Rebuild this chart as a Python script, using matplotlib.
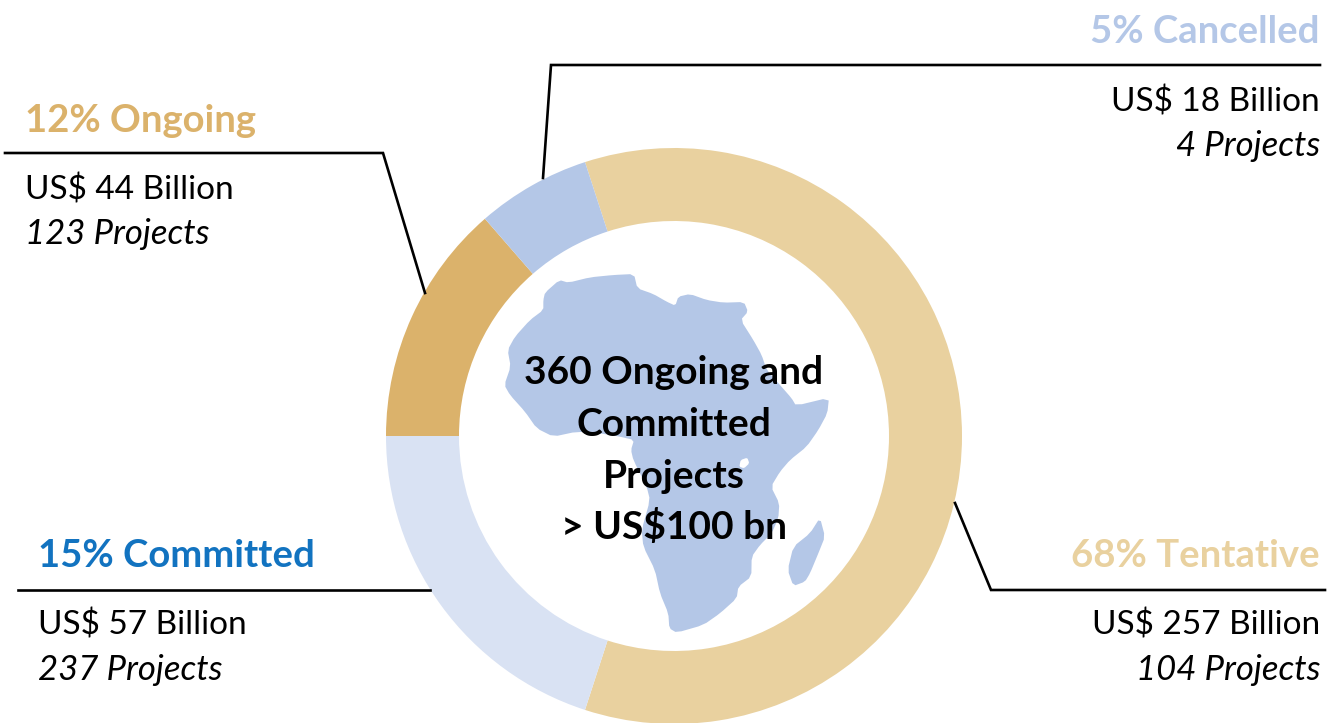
import matplotlib
matplotlib.use("Agg")
import matplotlib.pyplot as plt
from matplotlib.patches import Polygon

plt.rcParams['font.family'] = ['Lato', 'DejaVu Sans']

W, H = 1338, 723
DPI = 100

# Data
categories = ["Tentative", "Committed", "Ongoing", "Cancelled"]
percent_labels = ["68%", "15%", "12%", "5%"]
billions = [257, 57, 44, 18]
projects = [104, 237, 123, 4]
# slice shares as drawn in the picture (the printed percentages differ)
drawn_shares = [60.0, 20.0, 13.6, 6.4]
colors = ["#E9D19F", "#D9E2F3", "#DBB26B", "#B4C7E7"]
title_colors = ["#E9D19F", "#1273C0", "#DBB26B", "#B4C7E7"]
center_lines = ["360 Ongoing and", "Committed", "Projects", "> US$100 bn"]

africa_zoom = [(160,90),(165,68),(208,30),(235,38),(300,22),(370,15),(432,12),(442,55),(490,72),(530,95),
    (556,107),(565,80),(600,72),(650,90),(700,98),(762,96),(774,125),(752,150),(790,210),(815,255),(830,300),
    (870,345),(905,385),(918,407),(1017,383),(1012,430),(985,480),(950,530),(900,570),(870,605),(843,650),
    (868,700),(865,745),(845,790),(810,825),(785,860),(784,920),(745,950),(740,985),(690,1030),(640,1065),
    (560,1088),(538,1075),(535,1030),(510,970),(495,900),(460,830),(455,780),(480,690),(470,650),(430,570),
    (423,540),(432,510),(390,500),(330,490),(260,485),(190,500),(140,475),(105,425),(60,375),(43,345),
    (62,290),(53,240),(75,200),(120,150),(160,120)]
madagascar_zoom = [(990,743),(1005,800),(985,850),(960,910),(945,935),(910,948),(893,900),(910,830),(960,790)]
lake_zoom = [(752,570),(772,563),(778,580),(762,595),(748,590)]

def smooth(points, t=0.18):
    out = []
    n = len(points)
    for i in range(n):
        (x0, y0), (x1, y1) = points[i], points[(i + 1) % n]
        out.append((x0 + t * (x1 - x0), y0 + t * (y1 - y0)))
        out.append((x1 - t * (x1 - x0), y1 - t * (y1 - y0)))
    return out

def Y(y):
    return H - y

def from_zoom(points):
    return [(490 + x / 3, Y(270 + y / 3)) for x, y in smooth(points)]

fig = plt.figure(figsize=(W / DPI, H / DPI), dpi=DPI)
ax = fig.add_axes([0, 0, 1, 1])

ax.pie(drawn_shares, colors=colors, center=(674, Y(436)), radius=288, startangle=108,
       counterclock=False, wedgeprops=dict(width=73, linewidth=0), frame=True)
ax.set_xlim(0, W)
ax.set_ylim(0, H)
ax.set_aspect('equal')
ax.axis('off')

ax.add_patch(Polygon(from_zoom(africa_zoom), closed=True, fc="#B4C7E7", ec="none", zorder=2))
ax.add_patch(Polygon(from_zoom(madagascar_zoom), closed=True, fc="#B4C7E7", ec="none", zorder=2))
ax.add_patch(Polygon(from_zoom(lake_zoom), closed=True, fc="white", ec="none", zorder=2.1))

leaders = {
    "Tentative": [(955, 503), (991, 590), (1325, 590)],
    "Committed": [(18, 590), (430, 590)],
    "Ongoing": [(5, 153), (383, 153), (425, 293)],
    "Cancelled": [(1320, 65), (551, 65), (543, 178)],
}
for pts in leaders.values():
    ax.plot([p[0] for p in pts], [Y(p[1]) for p in pts], color="black", lw=1.9,
            solid_joinstyle="miter", zorder=1)

layout = {
    "Tentative": (1320, "right", 556, 625, 670),
    "Committed": (38, "left", 556, 625, 670),
    "Ongoing": (25, "left", 121, 190, 234),
    "Cancelled": (1320, "right", 32, 102, 146),
}
for i, cat in enumerate(categories):
    x, ha, y1, y2, y3 = layout[cat]
    ax.text(x, Y(y1), f"{percent_labels[i]} {cat}", color=title_colors[i], fontsize=27.5,
            fontweight="bold", ha=ha, va="center")
    ax.text(x, Y(y2), f"US$ {billions[i]} Billion", color="black", fontsize=24, ha=ha, va="center")
    ax.text(x, Y(y3), f"{projects[i]} Projects", color="black", fontsize=25, style="italic",
            ha=ha, va="center")

for line, y in zip(center_lines, [373, 424, 476, 527]):
    ax.text(674, Y(y), line, color="black", fontsize=28, fontweight="bold", ha="center", va="center", zorder=3)

fig.savefig("out.png", dpi=DPI, facecolor="white")
